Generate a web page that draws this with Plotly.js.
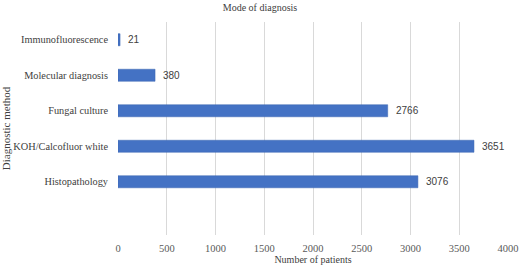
<!DOCTYPE html>
<html><head><meta charset="utf-8">
<script src="https://cdn.plot.ly/plotly-3.0.1.min.js"></script>
<style>html,body{margin:0;padding:0;background:#fff}#c{width:520px;height:270px}</style>
</head><body><div id="c"></div>
<script>
const categories = ["Histopathology","KOH/Calcofluor white","Fungal culture","Molecular diagnosis","Immunofluorescence"];
const patients = [3076, 3651, 2766, 380, 21];
const xTicks = [0,500,1000,1500,2000,2500,3000,3500,4000];

const serif = "Liberation Serif";
const sans = "Liberation Sans";
Plotly.newPlot("c", [{
  type: "bar", orientation: "h",
  y: categories, x: patients,
  marker: {color: "#4472C4", line: {color: "#3a64b0", width: 0.5}},
  width: 0.34, hoverinfo: "none"
}], {
  width: 520, height: 270,
  margin: {l: 118, r: 12, t: 22, b: 35},
  paper_bgcolor: "#fff", plot_bgcolor: "#fff",
  showlegend: false,
  font: {family: serif, size: 11, color: "#404040"},
  title: {text: "Mode of diagnosis", font: {family: serif, size: 10, color: "#404040"}, x: 0.5, xanchor: "center", y: 0.985, yanchor: "top"},
  xaxis: {range: [0, 4000], tickvals: xTicks, ticktext: xTicks.map(String),
    showgrid: true, gridcolor: "#d9d9d9", gridwidth: 1, zeroline: false, showline: false,
    tickfont: {family: serif, size: 10.5, color: "#595959"}, ticks: "", ticklabelstandoff: 5,
    title: {text: "Number of patients", font: {family: serif, size: 10, color: "#404040"}, standoff: 1},
    automargin: false, fixedrange: true},
  yaxis: {type: "category", categoryorder: "array", categoryarray: categories,
    range: [-1.5, 4.5], showgrid: false, zeroline: false, showline: false, ticks: "",
    tickfont: {family: serif, size: 10.3, color: "#404040"}, ticklabelstandoff: 9,
    title: {text: "Diagnostic method", font: {family: serif, size: 11, color: "#404040"}, standoff: 0},
    automargin: false, fixedrange: true},
  annotations: patients.map((v, i) => ({
    x: v, y: categories[i], xref: "x", yref: "y", text: String(v),
    showarrow: false, xanchor: "left", xshift: 6,
    font: {family: sans, size: 10, color: "#404040"}
  }))
}, {staticPlot: true, displayModeBar: false});
</script></body></html>
